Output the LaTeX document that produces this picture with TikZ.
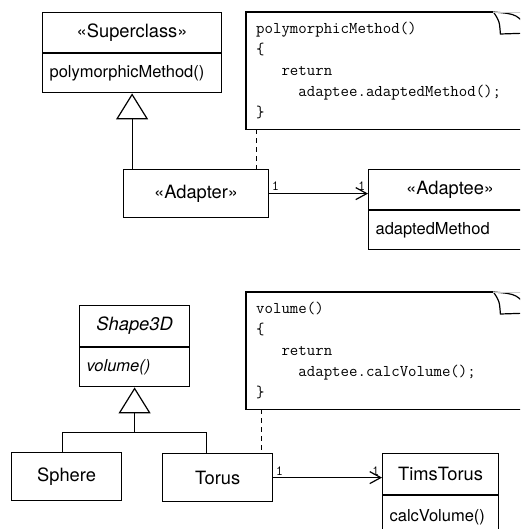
\documentclass[tikz,border=0pt]{standalone}
\usepackage{fontspec}
\setsansfont{TeX Gyre Heros}
\usetikzlibrary{arrows.meta,positioning,calc}

\begin{document}
\begin{tikzpicture}[x=1pt, y=-1pt,
    pen/.style={line width=1.2pt},
    head/.style={draw, pen, minimum height=40pt, inner sep=0pt,
      font=\sffamily\fontsize{18.3}{20}\selectfont},
    body/.style={draw, pen, minimum height=39pt, inner xsep=7pt, inner ysep=0pt,
      align=left, font=\sffamily\fontsize{16.5}{18}\selectfont},
    cls/.style={head, minimum height=48pt},
    note/.style={minimum width=285pt, minimum height=117pt, text width=265pt,
      inner xsep=10pt, inner ysep=0pt, align=left,
      font=\ttfamily\fontsize{16.4}{21}\selectfont},
    mult/.style={inner sep=2pt, font=\ttfamily\fontsize{14}{14}\selectfont},
    inherit/.style={pen, -{Triangle[open, length=26pt, width=32pt]}},
    assoc/.style={pen, -{Straight Barb[length=11pt, width=12pt]}},
    anchorline/.style={line width=1pt, dash pattern=on 5pt off 4pt}
  ]
    \useasboundingbox (0,0) rectangle (520,529);
    \clip (0,0) rectangle (520,529);

    % Top: object adapter
    \node[head, minimum width=179pt, anchor=north west] (suph) at (42,12) {«Superclass»};
    \node[body, text width=165pt, below=0pt of suph] (supb) {polymorphicMethod()};
    \node[cls, minimum width=145pt, anchor=north west] (ad) at (123,169) {«Adapter»};
    \node[head, minimum width=163pt, anchor=north west] (adth) at (368,169) {«Adaptee»};
    \node[body, text width=149pt, below=0pt of adth] (adtb) {adaptedMethod};
    \node[note, anchor=north west] (n1) at (246,12)
      {polymorphicMethod()\\\{\\\hphantom{xxx}return\\\hphantom{xxxxx}adaptee.adaptedMethod();\\\}};

    % Bottom: Shape3D example
    \node[head, minimum width=110pt, minimum height=41pt, anchor=north west,
      font=\sffamily\itshape\fontsize{18.3}{20}\selectfont] (s3h) at (79,305) {Shape3D};
    \node[body, text width=96pt, below=0pt of s3h,
      font=\sffamily\itshape\fontsize{16.5}{18}\selectfont] (s3b) {volume()};
    \node[cls, minimum width=110pt, anchor=north west] (sph) at (11,452) {Sphere};
    \node[cls, minimum width=110pt, anchor=north west] (tor) at (162,453) {Torus};
    \node[head, minimum width=116pt, minimum height=41pt, anchor=north west] (tth) at (382,453) {TimsTorus};
    \node[body, text width=102pt, minimum height=42pt, below=0pt of tth] (ttb) {calcVolume()};
    \node[note, anchor=north west] (n2) at (246,292)
      {volume()\\\{\\\hphantom{xxx}return\\\hphantom{xxxxx}adaptee.calcVolume();\\\}};

    % note outlines with folded corner
    \foreach \n in {n1,n2} {
      \coordinate (\n a) at ($(\n.north east)+(-38,0)$);
      \coordinate (\n b) at ($(\n.north east)+(-31,22)$);
      \coordinate (\n c) at ($(\n.north east)+(0,21)$);
      \draw[pen] (\n a) -- (\n.north west) -- (\n.south west) -- (\n.south east) -- (\n c);
      \draw[pen] (\n a) .. controls ($(\n a)+(6,9)$) .. (\n b) -- (\n c);
      \draw[pen] (\n a) .. controls ($(\n a)+(24,2)$) .. (\n c);
      \draw[gray!40, line width=0.6pt] (\n a) -- (\n.north east);
    }

    % connectors
    \draw[inherit] (ad.north -| supb.south) -- (supb.south);
    \draw[assoc] (ad.east) -- (ad.east -| adth.west)
      node[mult, pos=0, above right] {1} node[mult, pos=1, above left] {1};
    \coordinate (d1) at ($(n1.south west)+(10,0)$);
    \draw[anchorline] (d1) -- (d1 |- ad.north);

    \coordinate (jn) at ($(s3b.south)+(0,45)$);
    \draw[inherit] (jn) -- (s3b.south);
    \draw[pen] ($(sph.north)+(-4,0)$) |- (jn) -| ($(tor.north)+(-11,0)$);
    \draw[assoc] (tor.east) -- (tor.east -| tth.west)
      node[mult, pos=0, above right] {1} node[mult, pos=1, above left] {1};
    \coordinate (d2) at ($(n2.south west)+(15,0)$);
    \draw[anchorline] (d2) -- (d2 |- tor.north);
  \end{tikzpicture}
\end{document}
